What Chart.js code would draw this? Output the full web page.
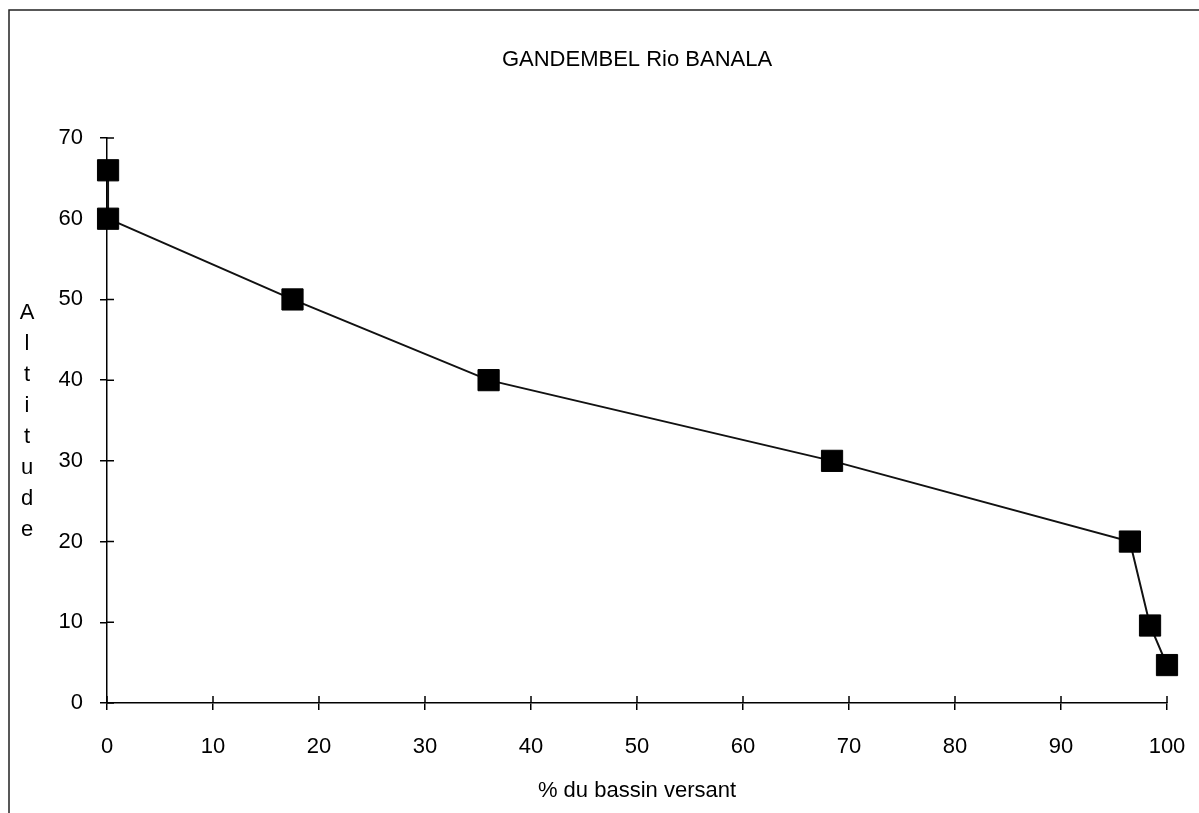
<!DOCTYPE html>
<html>
<head>
<meta charset="utf-8">
<title>GANDEMBEL Rio BANALA</title>
<script src="https://cdn.jsdelivr.net/npm/chart.js@4.4.0/dist/chart.umd.min.js"></script>
<style>
  html, body { margin: 0; padding: 0; background: #fff; }
  #wrap { width: 1199px; height: 813px; }
</style>
</head>
<body>
<div id="wrap"><canvas id="myChart"></canvas></div>
<script>
// % du bassin versant / altitude
var bassin = [0.1, 0.1, 17.5, 36.0, 68.4, 96.5, 98.4, 100];
var altitude = [66, 60, 50, 40, 30, 20, 9.6, 4.7];

var xTicks = [0, 10, 20, 30, 40, 50, 60, 70, 80, 90, 100];
var yTicks = [0, 10, 20, 30, 40, 50, 60, 70];

var titre = "GANDEMBEL Rio BANALA";
var titreX = "% du bassin versant";
var titreY = "Altitude";

var points = bassin.map(function (b, i) { return { x: b, y: altitude[i] }; });

var fontFamily = "'Liberation Sans', Arial, Helvetica, sans-serif";

// frame of the scanned page (left and top edges)
var cadre = {
  id: 'cadre',
  beforeDraw: function (chart) {
    var ctx = chart.ctx;
    ctx.save();
    ctx.strokeStyle = '#222';
    ctx.lineWidth = 1.5;
    ctx.beginPath();
    ctx.moveTo(9, 813);
    ctx.lineTo(9, 10);
    ctx.lineTo(1199, 10);
    ctx.stroke();
    ctx.restore();
  }
};

// ticks cross the axis: draw the inner half, plus the titles
var ticksCroises = {
  id: 'ticksCroises',
  afterDraw: function (chart) {
    var ctx = chart.ctx;
    var a = chart.chartArea;
    var sx = chart.scales.x;
    var sy = chart.scales.y;
    ctx.save();
    ctx.strokeStyle = '#000';
    ctx.lineWidth = 1.5;
    ctx.beginPath();
    sx.ticks.forEach(function (t) {
      var px = sx.getPixelForValue(t.value);
      ctx.moveTo(px, a.bottom);
      ctx.lineTo(px, a.bottom - 7);
    });
    sy.ticks.forEach(function (t) {
      var py = sy.getPixelForValue(t.value);
      ctx.moveTo(a.left, py);
      ctx.lineTo(a.left + 7, py);
    });
    ctx.stroke();

    ctx.fillStyle = '#000';
    ctx.font = '22px ' + fontFamily;
    ctx.textAlign = 'center';

    // chart title, centred over the plot area
    ctx.textBaseline = 'alphabetic';
    ctx.fillText(titre, (a.left + a.right) / 2, 66);

    // vertical axis title, one letter per line
    ctx.textBaseline = 'middle';
    titreY.split('').forEach(function (c, i) {
      ctx.fillText(c, 27, 313 + i * 31);
    });
    ctx.restore();
  }
};

var config = {
  type: 'line',
  data: {
    datasets: [{
      data: points,
      borderColor: '#111',
      borderWidth: 2,
      backgroundColor: '#000',
      pointStyle: 'rect',
      pointRadius: 15,
      pointBorderWidth: 1,
      pointBorderColor: '#000',
      pointBackgroundColor: '#000',
      tension: 0,
      clip: false
    }]
  },
  plugins: [cadre, ticksCroises],
  options: {
    responsive: true,
    maintainAspectRatio: false,
    animation: false,
    layout: { padding: { left: 0, right: 32, top: 138, bottom: 0 } },
    plugins: {
      legend: { display: false },
      tooltip: { enabled: false },
      title: { display: false }
    },
    scales: {
      x: {
        type: 'linear',
        min: 0,
        max: 100,
        afterBuildTicks: function (s) { s.ticks = xTicks.map(function (v) { return { value: v }; }); },
        afterFit: function (s) {
          s.height = 110;
          s.paddingRight = 0;
          s.paddingLeft = 0;
        },
        border: { display: true, color: '#000', width: 1.5 },
        grid: { drawOnChartArea: false, drawTicks: true, tickLength: 7, color: '#000', lineWidth: 1.5 },
        ticks: {
          color: '#000',
          padding: 24,
          maxRotation: 0,
          font: { family: fontFamily, size: 22 }
        },
        title: {
          display: true,
          text: titreX,
          color: '#000',
          padding: { top: 8, bottom: 9 },
          font: { family: fontFamily, size: 22 }
        }
      },
      y: {
        type: 'linear',
        min: 0,
        max: 70,
        afterBuildTicks: function (s) { s.ticks = yTicks.map(function (v) { return { value: v }; }); },
        afterFit: function (s) { s.width = 107; },
        border: { display: true, color: '#000', width: 1.5 },
        grid: { drawOnChartArea: false, drawTicks: true, tickLength: 7, color: '#000', lineWidth: 1.5 },
        ticks: {
          color: '#000',
          padding: 17,
          font: { family: fontFamily, size: 22 }
        }
      }
    }
  }
};

var myChart = new Chart(document.getElementById('myChart'), config);
</script>
</body>
</html>
